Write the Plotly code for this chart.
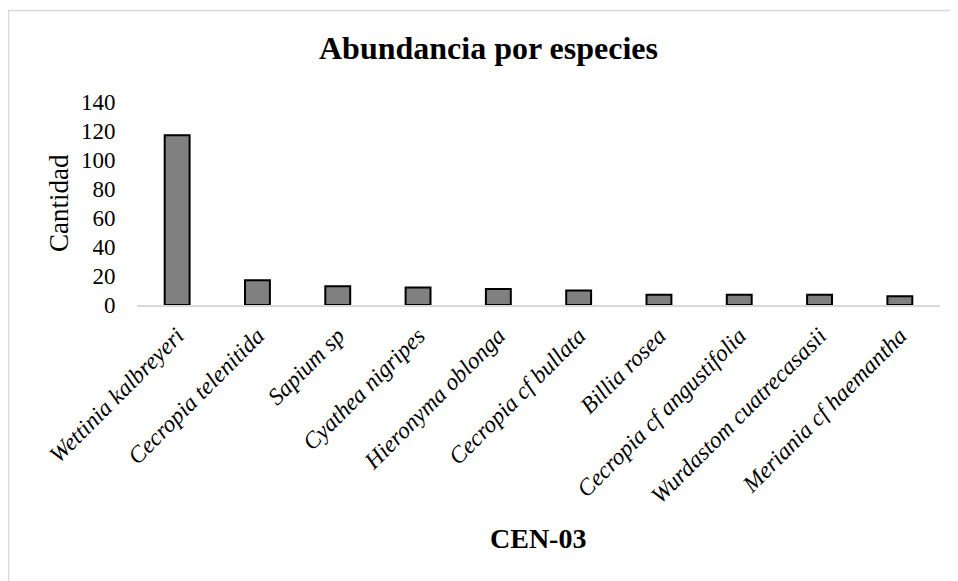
import plotly.graph_objects as go

species = ["Wettinia kalbreyeri", "Cecropia telenitida", "Sapium sp", "Cyathea nigripes",
           "Hieronyma oblonga", "Cecropia cf bullata", "Billia rosea",
           "Cecropia cf angustifolia", "Wurdastom cuatrecasasii", "Meriania cf haemantha"]
counts = [117, 17, 13, 12, 11, 10, 7, 7, 7, 6]
y_ticks = [0, 20, 40, 60, 80, 100, 120, 140]

OFF = 8  # page body margin
W, H = 958 - OFF, 581 - OFF
L, R, T = 137 - OFF, 18, 102 - OFF
B = H - (305 - OFF)
pw, ph = W - L - R, H - T - B

def px_x(x):
    return (x - OFF - L) / pw

def px_y(y):
    return (H - B - (y - OFF)) / ph

FONT = "Liberation Serif, Times New Roman, serif"

fig = go.Figure(go.Bar(
    x=species, y=counts,
    marker=dict(color="#808080", line=dict(color="#000000", width=2)),
))

fig.update_layout(
    width=W, height=H,
    margin=dict(l=L, r=R, t=T, b=B),
    paper_bgcolor="white", plot_bgcolor="white",
    bargap=0.69,
    showlegend=False,
    font=dict(family=FONT, color="black"),
    xaxis=dict(
        showline=True, linecolor="#d9d9d9", linewidth=1.5,
        showgrid=False, ticks="outside", ticklen=6, tickcolor="rgba(0,0,0,0)",
        tickangle=-45,
        tickfont=dict(family=FONT, size=23.5, style="italic", color="black"),
    ),
    yaxis=dict(
        range=[0, 140], tickvals=y_ticks, showgrid=False, zeroline=False,
        showline=False, ticks="outside", ticklen=16, tickcolor="rgba(0,0,0,0)",
        tickfont=dict(family=FONT, size=23, color="black"),
    ),
    annotations=[
        dict(text="<b>Abundancia por especies</b>", x=px_x(488), y=px_y(48),
             xref="paper", yref="paper", showarrow=False, xanchor="center", yanchor="middle",
             font=dict(family=FONT, size=32, color="black")),
        dict(text="<b>CEN-03</b>", x=px_x(538), y=px_y(538),
             xref="paper", yref="paper", showarrow=False, xanchor="center", yanchor="middle",
             font=dict(family=FONT, size=28, color="black")),
        dict(text="Cantidad", x=px_x(59), y=px_y(203), textangle=-90,
             xref="paper", yref="paper", showarrow=False, xanchor="center", yanchor="middle",
             font=dict(family=FONT, size=27, color="black")),
    ],
    shapes=[
        dict(type="rect", xref="paper", yref="paper",
             x0=px_x(8.5), x1=px_x(1100), y0=px_y(10.5), y1=px_y(800),
             line=dict(color="#d9d9d9", width=1.5), fillcolor="rgba(0,0,0,0)", layer="below"),
    ],
)

fig.write_html("out.html")
